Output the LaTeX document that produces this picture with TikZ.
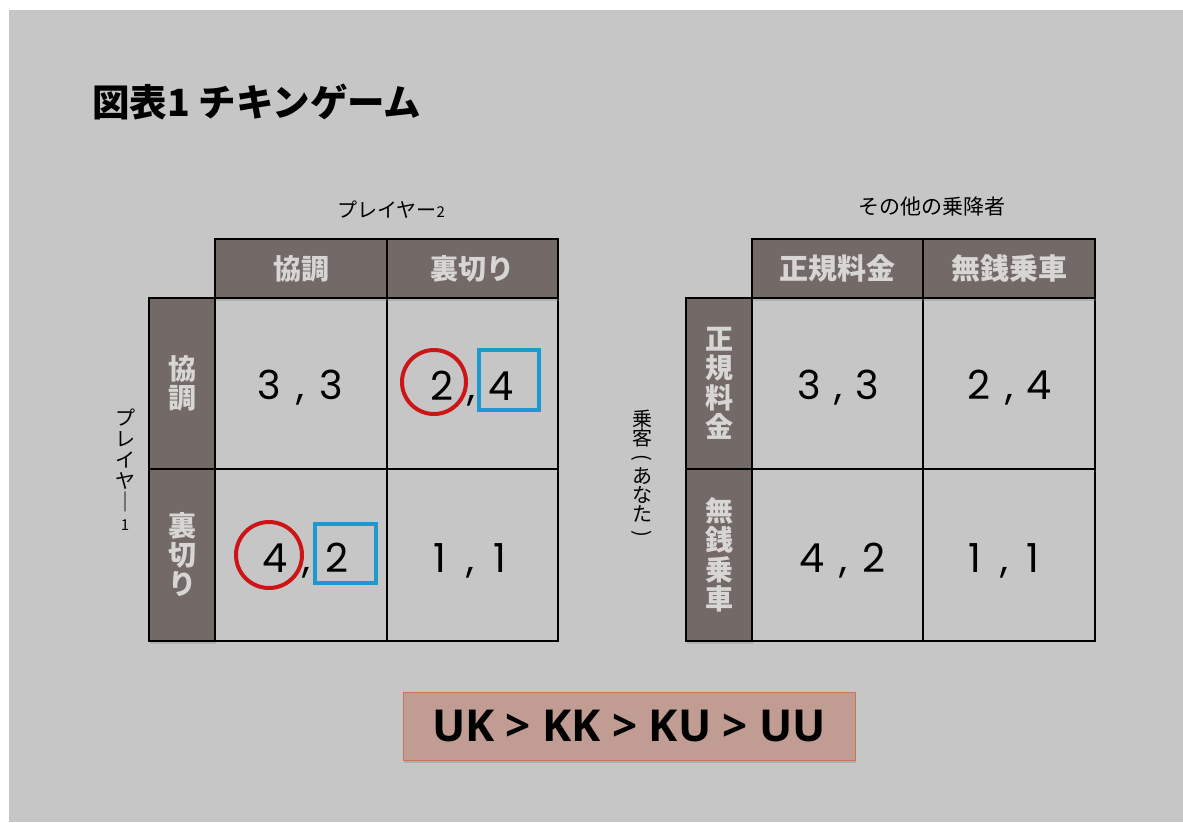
\documentclass[tikz,border=0pt]{standalone}
\usepackage{fontspec}
\usepackage{graphicx}
\setmainfont{Noto Sans CJK JP}
\newfontfamily\jp{Noto Sans CJK JP}
\newfontfamily\numf{Poppins}
\newfontfamily\latb{Open Sans}
\usetikzlibrary{shadows}
\definecolor{bg}{RGB}{198,198,198}
\definecolor{hdr}{RGB}{115,106,104}
\definecolor{hdrtxt}{RGB}{216,214,212}
\definecolor{markred}{RGB}{205,20,22}
\definecolor{markblue}{RGB}{30,152,206}
\definecolor{boxfill}{RGB}{192,156,146}
\definecolor{boxdraw}{RGB}{200,118,84}
\newcommand{\pay}[3]{\makebox[24pt]{#1}\makebox[#3]{,}\makebox[24pt]{#2}}
\newcommand{\vbar}{｜}
\newcommand{\vopen}{\rotatebox[origin=c]{-90}{(}}
\newcommand{\vclose}{\rotatebox[origin=c]{-90}{)}}
\tikzset{
  bodycell/.style={draw=black, line width=2pt, fill=bg, inner sep=0pt,
    minimum width=172pt, minimum height=171pt},
  hdrcell/.style={draw=black, line width=2pt, fill=hdr, inner sep=0pt,
    text=hdrtxt, font=\jp\bfseries\fontsize{28}{28}\selectfont,
    minimum width=172pt, minimum height=59pt,
    drop shadow={opacity=0.3, shadow xshift=1pt, shadow yshift=-3pt}},
  rowcell/.style={draw=black, line width=2pt, fill=hdr, inner sep=0pt,
    text=hdrtxt, font=\jp\bfseries\fontsize{28}{29}\selectfont, align=center,
    minimum width=66pt, minimum height=171pt,
    drop shadow={opacity=0.3, shadow xshift=1pt, shadow yshift=-3pt}},
  payoff/.style={anchor=base, inner sep=0pt, font=\numf\fontsize{40}{40}\selectfont},
  axislabel/.style={inner sep=0pt, font=\jp\fontsize{20}{20}\selectfont},
  vlabel/.style={inner sep=0pt, align=center, font=\jp\fontsize{20}{21}\selectfont},
  redring/.style={draw=markred, line width=4pt, circle, minimum size=64pt, inner sep=0pt},
  bluesq/.style={draw=markblue, line width=3.8pt, minimum width=60pt, minimum height=60pt, inner sep=0pt},
}
\begin{document}
\begin{tikzpicture}[x=1pt, y=-1pt]
\useasboundingbox (0,0) rectangle (1183,822);
\fill[white] (0,0) rectangle (1183,822);
\fill[bg] (9,10) rectangle (1183,822);

% title
\node[anchor=west, inner sep=0pt, font=\jp\bfseries\fontsize{37.5}{37.5}\selectfont] (title) at (92,102) {図表1 チキンゲーム};

% ---------- left table ----------
\node[axislabel] (p2) at (391,210) {プレイヤー{\fontsize{15}{15}\selectfont 2}};
\node[vlabel] (p1) at (125,470) {プ\\レ\\イ\\ヤ\\\vbar\\{\fontsize{15}{15}\selectfont 1}};

\node[bodycell] (L11) at (301,383.5) {};
\node[bodycell, minimum width=171pt] (L12) at (472.5,383.5) {};
\node[bodycell, minimum height=172pt] (L21) at (301,555) {};
\node[bodycell, minimum width=171pt, minimum height=172pt] (L22) at (472.5,555) {};

\node[hdrcell] (LH1) at (301,268.5) {協調};
\node[hdrcell, minimum width=171pt] (LH2) at (472.5,268.5) {裏切り};
\node[rowcell] (LR1) at (182,383.5) {協\\調};
\node[rowcell, minimum height=172pt] (LR2) at (182,555) {裏\\切\\り};

\node[payoff] (l11) at (300,399) {\pay{3}{3}{38pt}};
\node[payoff] (l12) at (471.5,400) {\pay{2}{4}{35pt}};
\node[payoff] (l21) at (306,572) {\pay{4}{2}{38pt}};
\node[payoff] (l22) at (470,572) {\pay{1}{1}{36pt}};

\node[redring] (ring1) at (434,382) {};
\node[bluesq] (sq1) at (509,380) {};
\node[redring, minimum size=66pt] (ring2) at (269,555) {};
\node[bluesq, minimum width=61pt, minimum height=59pt] (sq2) at (345.5,553.5) {};

% ---------- right table ----------
\node[axislabel, font=\jp\fontsize{21}{21}\selectfont] (others) at (932,207) {その他の乗降者};
\node[vlabel, font=\jp\fontsize{20}{19}\selectfont] (you) at (642,475) {乗\\客\\\vopen\\あ\\な\\た\\\vclose};

\node[bodycell, minimum width=171pt] (R11) at (837.5,383.5) {};
\node[bodycell] (R12) at (1009,383.5) {};
\node[bodycell, minimum width=171pt, minimum height=172pt] (R21) at (837.5,555) {};
\node[bodycell, minimum height=172pt] (R22) at (1009,555) {};

\node[hdrcell, minimum width=171pt, font=\jp\bfseries\fontsize{29}{29}\selectfont] (RH1) at (837.5,268.5) {正規料金};
\node[hdrcell, font=\jp\bfseries\fontsize{29}{29}\selectfont] (RH2) at (1009,268.5) {無銭乗車};
\node[rowcell, font=\jp\bfseries\fontsize{28}{29.5}\selectfont] (RR1) at (719,383.5) {正\\規\\料\\金};
\node[rowcell, minimum height=172pt, font=\jp\bfseries\fontsize{28}{29.5}\selectfont] (RR2) at (719,555) {無\\銭\\乗\\車};

\node[payoff] (r11) at (838,399) {\pay{3}{3}{34pt}};
\node[payoff] (r12) at (1009,399) {\pay{2}{4}{36pt}};
\node[payoff] (r21) at (843,572) {\pay{4}{2}{38pt}};
\node[payoff] (r22) at (1004,572) {\pay{1}{1}{34pt}};

% ---------- ranking box ----------
\node[draw=boxdraw, line width=1pt, fill=boxfill, minimum width=452pt, minimum height=68pt, inner sep=0pt,
  font=\latb\bfseries\fontsize{44}{44}\selectfont,
  drop shadow={opacity=0.35, shadow xshift=1pt, shadow yshift=-3pt}] (rank) at (629,726) {UK > KK > KU > UU};
\end{tikzpicture}
\end{document}
